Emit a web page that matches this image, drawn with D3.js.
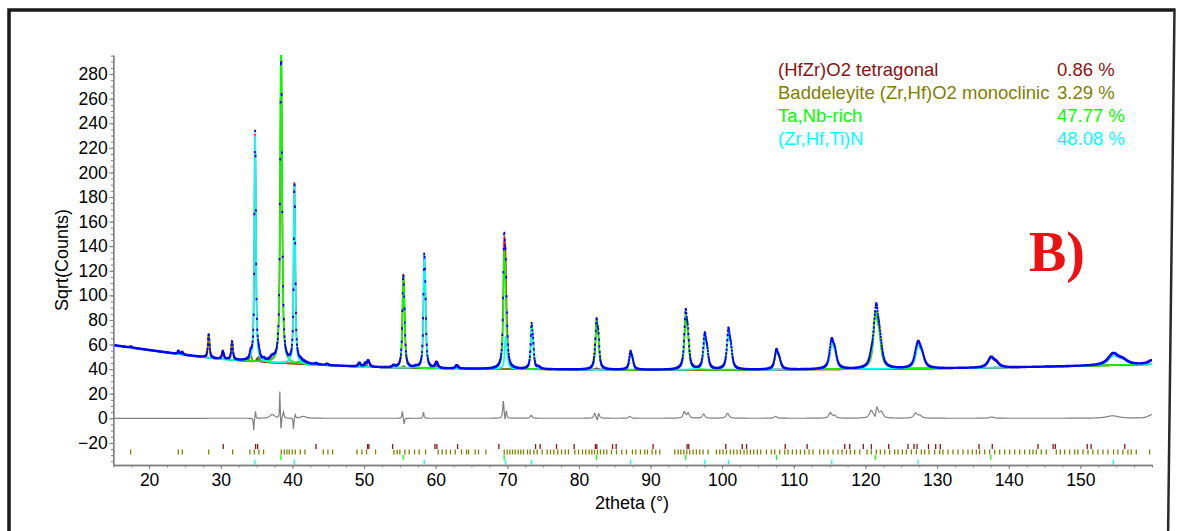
<!DOCTYPE html>
<html>
<head>
<meta charset="utf-8">
<script src="https://cdn.jsdelivr.net/npm/d3@7"></script>
<style>
  body { margin: 0; background: #fff; }
  svg { display: block; }
  text { font-family: "Liberation Sans", Arial, sans-serif; }
</style>
</head>
<body>
<svg id="chart" width="1181" height="531"></svg>
<script>
// ---------------------------------------------------------------
// Rietveld refinement plot: observed / calculated / difference
// ---------------------------------------------------------------

// Phases and refined weight fractions (%)
const phaseNames = ["(HfZr)O2 tetragonal", "Baddeleyite (Zr,Hf)O2 monoclinic", "Ta,Nb-rich", "(Zr,Hf,Ti)N"];
const phaseFractions = [0.86, 3.29, 47.77, 48.08];

// Axis tick labels
const xTickLabels = [20, 30, 40, 50, 60, 70, 80, 90, 100, 110, 120, 130, 140, 150];
const yTickLabels = [-20, 0, 20, 40, 60, 80, 100, 120, 140, 160, 180, 200, 220, 240, 260, 280];

// Refined background (sqrt counts) at support angles
const bgAngles = [15, 20, 25, 30, 35, 40, 45, 50, 55, 60, 70, 80, 90, 100, 110, 120, 130, 140, 150, 160];
const bgLevels = [59.5, 55.5, 51.5, 48, 46, 44.5, 43, 41.8, 41, 40.5, 40, 39.6, 39.4, 39.4, 39.6, 40, 40.5, 41.3, 42.5, 44];

// Tetragonal (HfZr)O2: profile peaks (2theta, height, FWHM) and reflection list
const tetraPeakPos    = [30.27, 35.1, 43.3, 50.55, 60.1, 62.9, 74.3, 82.4];
const tetraPeakHeight = [6.5, 3, 1, 5, 3.5, 1.5, 1.5, 1];
const tetraPeakWidth  = [0.3, 0.3, 0.3, 0.35, 0.35, 0.35, 0.4, 0.4];
const tetraReflections = [30.35, 34.87, 35.15, 43.29, 50.5, 50.68, 53.99, 59.9, 60.17, 63.06, 68.82,
  73.95, 74.59, 76.87, 79.33, 82.3, 82.5, 84.7, 85.2, 90.36, 95.1, 95.33, 100.5, 102.8, 103.4, 108.8,
  111.85, 117.1, 117.8, 119.7, 120.83, 123.24, 125.94, 126.78, 127.2, 128.8, 129.8, 130.45, 135.85,
  137.7, 144.08, 146.2, 146.5, 150.96, 151.5, 156.2];

// Monoclinic baddeleyite
const monoPeakPos    = [17.45, 24.08, 24.6, 28.3, 31.55, 34.15, 35.3, 36.0, 40.7, 41.1, 44.8, 49.3, 50.15, 54.1, 55.5, 57.2, 60.0, 62.9];
const monoPeakHeight = [0.8, 2.5, 2, 19, 15, 5, 4, 1.5, 1.5, 1.5, 1, 3, 2.5, 1.5, 1.5, 1, 1.5, 1.2];
const monoPeakWidth  = [0.25, 0.25, 0.25, 0.25, 0.25, 0.28, 0.28, 0.28, 0.3, 0.3, 0.3, 0.32, 0.32, 0.32, 0.32, 0.32, 0.35, 0.35];
const monoReflections = [17.42, 24.08, 24.63, 28.31, 31.66, 34.07, 34.68, 35.33, 35.98, 38.45, 38.87,
  39.24, 39.56, 39.98, 40.40, 41.10, 41.75, 44.31, 44.96, 45.61, 49.01, 49.70, 50.35, 51.61, 54.17,
  54.63, 55.0, 55.7, 56.31, 57.05, 57.7, 58.59, 60.35, 60.91, 61.47, 62.07, 62.73, 63.61, 64.31,
  64.59, 65.52, 65.98, 67.01, 69.57, 69.98, 70.36, 70.73, 71.1, 71.52, 71.89, 72.26, 72.82, 73.19,
  73.71, 74.17, 74.87, 75.57, 76.03, 76.5, 77.05, 77.57, 78.08, 78.54, 79.43, 79.94, 80.5, 80.96,
  81.43, 81.8, 82.17, 82.59, 83.01, 83.47, 83.89, 84.54, 85.24, 85.98, 86.64, 87.47, 87.94, 88.59,
  89.19, 89.57, 90.22, 90.73, 91.29, 93.38, 93.85, 94.22, 94.64, 95.05, 95.47, 95.94, 96.4, 96.87,
  97.33, 98.03, 99.19, 99.66, 100.12, 100.59, 101.15, 101.61, 102.08, 102.54, 103.05, 103.47,
  103.94, 104.4, 104.91, 105.38, 106.17, 106.87, 107.33, 108.03, 108.73, 109.19, 109.8, 110.36,
  110.92, 111.52, 112.13, 112.68, 113.62, 114.17, 114.78, 115.48, 116.17, 116.73, 117.34, 117.89,
  118.5, 119.2, 120.22, 120.83, 121.52, 122.08, 122.69, 123.38, 124.08, 124.55, 125.15, 125.71,
  126.41, 127.1, 127.8, 128.27, 128.87, 129.66, 130.36, 130.82, 131.52, 132.22, 132.92, 133.62,
  134.31, 134.92, 135.48, 135.94, 136.64, 137.34, 138.03, 138.73, 139.43, 140.13, 140.83, 141.52,
  142.22, 142.92, 143.38, 143.85, 144.55, 145.24, 146.64, 147.2, 147.8, 148.5, 149.2, 149.66,
  150.36, 151.06, 151.75, 152.45, 153.15, 153.85, 154.64, 155.24, 155.94, 156.64, 157.1, 157.8, 159.66];

// Ta,Nb-rich bcc phase
const tanbPeakPos    = [38.40, 55.47, 69.56, 82.46, 94.90, 107.57, 121.40, 137.50];
const tanbPeakHeight = [256, 74, 97, 41, 46, 15.5, 47, 8];
const tanbPeakWidth  = [0.28, 0.28, 0.3, 0.35, 0.42, 0.55, 0.7, 1.0];

// (Zr,Hf,Ti)N rock-salt phase
const nitridePeakPos    = [34.77, 40.26, 58.40, 69.76, 73.39, 87.20, 97.57, 100.87, 115.30, 127.34, 154.60];
const nitridePeakHeight = [184, 146, 92, 26, 35, 14, 28, 31, 22, 19.5, 8];
const nitridePeakWidth  = [0.22, 0.22, 0.26, 0.3, 0.3, 0.4, 0.45, 0.48, 0.65, 0.8, 1.6];

// Observed - calculated misfit features (2theta, amplitude, width)
const misfitPos   = [34.6, 34.85, 37.2, 38.25, 38.42, 38.75, 40.15, 40.4, 41.5, 55.35, 55.6, 58.3, 69.45, 69.7,
  69.85, 73.35, 82.2, 82.55, 82.75, 87.1, 94.7, 95.25, 97.4, 100.75, 107.45, 115.1, 115.7, 120.8, 121.35,
  121.6, 122.2, 127.0, 127.6, 137.6, 154.5, 160.0];
const misfitAmp   = [-10, 6, 3, 22, -12, 5, -9, 3, 1.5, 6, -5, 5, 14, -4, 6, 2.5, 4, -3, 4, 1.5, 5, 4, 3.5,
  4, 1.5, 4.5, 2, 6, -3, 8, 5, 4, 2, 1, 2, 3];
const misfitWidth = [0.12, 0.12, 0.8, 0.1, 0.1, 0.2, 0.12, 0.15, 1.0, 0.15, 0.15, 0.15, 0.2, 0.15, 0.2, 0.3,
  0.3, 0.2, 0.3, 0.4, 0.4, 0.4, 0.4, 0.5, 0.5, 0.5, 0.5, 0.6, 0.2, 0.4, 0.6, 0.6, 0.6, 0.8, 2.0, 1.2];

// ---------------------------------------------------------------
// Profile model
// ---------------------------------------------------------------
const ETA = 0.8;                           // pseudo-Voigt Lorentzian fraction
const LAMBDA_RATIO = 1.54439 / 1.54056;    // Cu K-alpha2 / K-alpha1
const RAD = Math.PI / 180;

function pv(dx, w) {
  const t = 4 * dx * dx / (w * w);
  return ETA / (1 + t) + (1 - ETA) * Math.exp(-Math.LN2 * t);
}
function ka2Pos(p) {
  const s = LAMBDA_RATIO * Math.sin(p / 2 * RAD);
  return s < 1 ? 2 * Math.asin(s) / RAD : null;
}
function doublet(x, p, p2, w) {
  return pv(x - p, w) + (p2 !== null ? 0.5 * pv(x - p2, w) : 0);
}
function makePhase(pos, height, width) {
  const peaks = pos.map((p, i) => {
    const p2 = ka2Pos(p);
    let m = 0;
    const end = p2 !== null ? p2 : p;
    for (let k = 0; k <= 60; k++) m = Math.max(m, doublet(p + (end - p) * k / 60, p, p2, width[i]));
    return { p, p2, w: width[i], h: height[i] / m };
  });
  return x => d3.sum(peaks, q => q.h * doublet(x, q.p, q.p2, q.w));
}

const background = d3.scaleLinear().domain(bgAngles).range(bgLevels);
const phaseFns = [
  makePhase(tetraPeakPos, tetraPeakHeight, tetraPeakWidth),
  makePhase(monoPeakPos, monoPeakHeight, monoPeakWidth),
  makePhase(tanbPeakPos, tanbPeakHeight, tanbPeakWidth),
  makePhase(nitridePeakPos, nitridePeakHeight, nitridePeakWidth)
];
const misfit = x => d3.sum(misfitPos, (p, i) => misfitAmp[i] * pv(x - p, misfitWidth[i]));

function profileAt(x) {
  const bg = background(x);
  const parts = phaseFns.map(f => f(x));
  const calc = bg + d3.sum(parts);
  const diff = misfit(x);
  return { x, bg, parts, calc, obs: calc + diff, diff };
}

// fine grid for the model curves, scan step for the measured points
const rows = d3.range(15, 160.005, 0.01).map(profileAt);
const scan = d3.range(15, 160.005, 0.05).map(profileAt);

// ---------------------------------------------------------------
// Layout and drawing
// ---------------------------------------------------------------
const phaseColors = ["#8b1212", "#808000", "#00ff00", "#00ffff"];
const svg = d3.select("#chart");
const W = 1181, H = 531;
const plot = { left: 113.3, right: 1152, top: 55, bottom: 465 };

const x = d3.scaleLinear().domain([15, 160]).range([plot.left, plot.right]);
const y = d3.scaleLinear().domain([-38, 295.5]).range([plot.bottom, plot.top]);

svg.append("rect").attr("width", W).attr("height", H).attr("fill", "#fff");

// outer frame
svg.append("path")
  .attr("d", `M9,540 L9,10 L1175,10`)
  .attr("fill", "none").attr("stroke", "#1a1a1a").attr("stroke-width", 3.5);
svg.append("path")
  .attr("d", `M1174.5,8.5 L1168,540`)
  .attr("fill", "none").attr("stroke", "#2a2a2a").attr("stroke-width", 2.5);

svg.append("clipPath").attr("id", "plotClip")
  .append("rect")
  .attr("x", plot.left).attr("y", plot.top)
  .attr("width", plot.right - plot.left).attr("height", plot.bottom - plot.top);

const g = svg.append("g").attr("clip-path", "url(#plotClip)");

// axes
const axisColor = "#808080";
const xMinor = d3.axisBottom(x).tickValues(d3.range(15, 160.01, 2.5)).tickSize(2.5).tickSizeOuter(0).tickFormat("");
const xMajor = d3.axisBottom(x).tickValues(xTickLabels).tickSize(4).tickSizeOuter(0).tickPadding(5).tickFormat(d3.format("d"));
const yMinor = d3.axisLeft(y).tickValues(d3.range(-35, 295.01, 5)).tickSize(2.5).tickSizeOuter(0).tickFormat("");
const yMajor = d3.axisLeft(y).tickValues(yTickLabels).tickSize(4).tickSizeOuter(0).tickPadding(1.5).tickFormat(d3.format("d"));

function styleAxis(sel) {
  sel.selectAll("path.domain").attr("stroke", axisColor).attr("stroke-width", 1.3);
  sel.selectAll(".tick line").attr("stroke", axisColor).attr("stroke-width", 1);
  sel.selectAll(".tick text").attr("fill", "#000").style("font-size", "17.5px")
    .style("font-family", "'Liberation Sans', Arial, sans-serif");
}
svg.append("g").attr("transform", `translate(0,${plot.bottom})`).call(xMinor).call(styleAxis);
svg.append("g").attr("transform", `translate(0,${plot.bottom})`).call(xMajor).call(styleAxis);
svg.append("g").attr("transform", `translate(${plot.left},0)`).call(yMinor).call(styleAxis);
svg.append("g").attr("transform", `translate(${plot.left},0)`).call(yMajor).call(styleAxis);

// axis titles
svg.append("text").attr("x", 632).attr("y", 509).attr("text-anchor", "middle")
  .style("font-size", "18px").text("2theta (°)");
svg.append("text").attr("transform", "translate(68,260) rotate(-90)").attr("text-anchor", "middle")
  .style("font-size", "18px").text("Sqrt(Counts)");

// calculated total profile
g.append("path")
  .attr("d", d3.line().x(d => x(d.x)).y(d => y(d.calc))(rows))
  .attr("fill", "none").attr("stroke", "#ff0000").attr("stroke-width", 1.5);

// individual phase profiles on the background
phaseFns.forEach((_, k) => {
  g.append("path")
    .attr("d", d3.line().x(d => x(d.x)).y(d => y(d.bg + d.parts[k]))(rows))
    .attr("fill", "none").attr("stroke", phaseColors[k]).attr("stroke-width", 1.7);
});

// observed points
const dotW = 1.8, dotH = 2.4;
g.append("path")
  .attr("d", scan.map(d => `M${(x(d.x) - dotW / 2).toFixed(2)},${(y(d.obs) - dotH / 2).toFixed(2)}h${dotW}v${dotH}h${-dotW}z`).join(""))
  .attr("fill", "#0000ff");

// difference curve
g.append("path")
  .attr("d", d3.line().x(d => x(d.x)).y(d => y(d.diff))(scan))
  .attr("fill", "none").attr("stroke", "#808080").attr("stroke-width", 1.2);

// reflection markers, one row per phase
const reflectionSets = [tetraReflections, monoReflections, tanbPeakPos, nitridePeakPos];
const rowTop = [-21, -25.4, -29.8, -33.6];
const rowHeight = 4;
reflectionSets.forEach((set, k) => {
  g.append("g").selectAll("line").data(set).join("line")
    .attr("x1", d => x(d)).attr("x2", d => x(d))
    .attr("y1", y(rowTop[k])).attr("y2", y(rowTop[k] - rowHeight))
    .attr("stroke", phaseColors[k]).attr("stroke-width", 1.3);
});

// phase legend
const legend = svg.append("g").style("font-size", "18.5px");
phaseNames.forEach((name, k) => {
  legend.append("text").attr("x", 778).attr("y", 76 + 23 * k).attr("fill", phaseColors[k]).text(name);
  legend.append("text").attr("x", 1057).attr("y", 76 + 23 * k).attr("fill", phaseColors[k])
    .text(phaseFractions[k].toFixed(2) + " %");
});

// panel label
svg.append("text").attr("x", 1029).attr("y", 271)
  .style("font-family", "'Liberation Serif', 'Times New Roman', serif")
  .style("font-weight", "bold").style("font-size", "56px")
  .attr("fill", "#ee1111").text("B)");
</script>
</body>
</html>
